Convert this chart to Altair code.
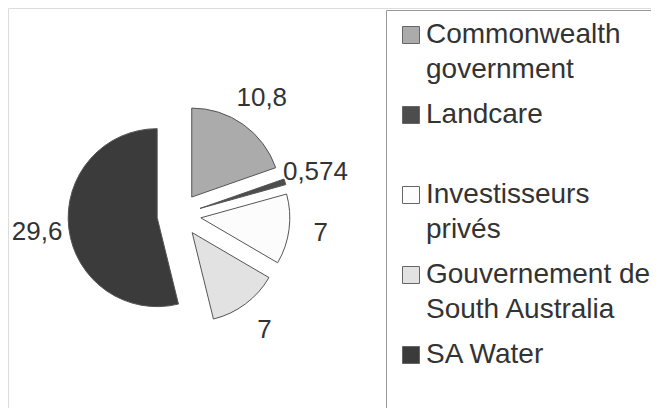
import altair as alt
import pandas as pd

# Data
names = [
    "Commonwealth\ngovernment",
    "Landcare\n",
    "Investisseurs\nprivés",
    "Gouvernement de\nSouth Australia",
    "SA Water\n",
]
values = [10.8, 0.574, 7, 7, 29.6]
colors = ["#ababab", "#4d4d4d", "#fcfcfc", "#e2e2e2", "#3b3b3b"]

df = pd.DataFrame({"name": names, "value": values, "order": list(range(len(names)))})

CX, CY = 171, 207   # pie centre (layout)
D = 22              # explode distance
R = 89              # pie radius
RL = 143            # label distance

base = alt.Chart(df).transform_joinaggregate(
    total="sum(value)"
).transform_window(
    cum="sum(value)", sort=[alt.SortField("order")], frame=[None, 0]
).transform_calculate(
    t1="2*PI*datum.cum/datum.total",
    t0="2*PI*(datum.cum-datum.value)/datum.total",
).transform_calculate(
    mid="(datum.t0+datum.t1)/2",
).transform_calculate(
    px=f"{CX}+{D}*sin(datum.mid)",
    py=f"{CY}-{D}*cos(datum.mid)",
    lx=f"{CX}+{RL}*sin(datum.mid)",
    ly=f"{CY}-{RL}*cos(datum.mid)",
    lab="replace(toString(datum.value), '.', ',')",
)

arcs = base.mark_arc(radius=R, stroke="#555555", strokeWidth=1).encode(
    x=alt.X("px:Q", scale=None, axis=None),
    y=alt.Y("py:Q", scale=None, axis=None),
    theta=alt.Theta("t0:Q", scale=None),
    theta2="t1:Q",
    color=alt.Color(
        "name:N",
        scale=alt.Scale(domain=names, range=colors),
        legend=alt.Legend(
            title=None,
            orient="none",
            legendX=378,
            legendY=2,
            labelExpr="split(datum.label, '\\n')",
            labelFont="Liberation Sans",
            labelFontSize=28,
            labelColor="#333333",
            labelLimit=600,
            labelOffset=1,
            labelBaseline="middle",
            symbolType="square",
            symbolSize=289,
            symbolStrokeColor="#666666",
            symbolStrokeWidth=1,
            rowPadding=17,
            padding=11,
            strokeColor="#999999",
            fillColor="#ffffff",
            cornerRadius=0,
        ),
    ),
)

labels = base.mark_text(
    font="Liberation Sans", fontSize=26, color="#333333", align="center", baseline="middle"
).encode(
    x=alt.X("lx:Q", scale=None, axis=None),
    y=alt.Y("ly:Q", scale=None, axis=None),
    text="lab:N",
)

chart = alt.layer(arcs, labels).properties(
    width=643, height=400, autosize=alt.AutoSizeParams(type="none"), padding=0
).configure_view(stroke=None).configure(
    style={"guide-label": {"lineHeight": 35}}
)

chart.save("out.html", embed_options={"renderer": "svg", "actions": False})
